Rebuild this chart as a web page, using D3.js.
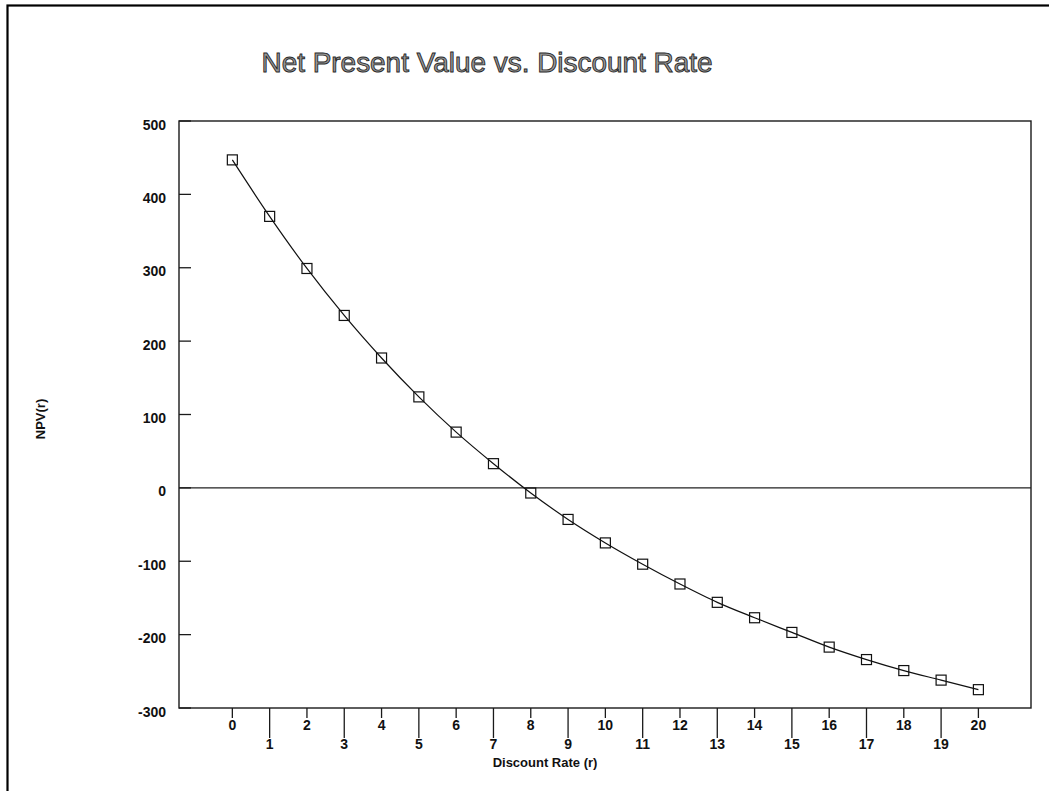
<!DOCTYPE html>
<html>
<head>
<meta charset="utf-8">
<script src="https://cdn.jsdelivr.net/npm/d3@7"></script>
<style>
  html, body { margin: 0; padding: 0; background: #fff; }
  svg { display: block; }
  text { font-family: "Liberation Sans", Arial, Helvetica, sans-serif; }
</style>
</head>
<body>
<svg id="chart" width="1049" height="791"></svg>
<script>
// Discount rates (%) and the net present value at each rate
const rates = [0, 1, 2, 3, 4, 5, 6, 7, 8, 9, 10, 11, 12, 13, 14, 15, 16, 17, 18, 19, 20];
const npv = [447, 370, 299, 235, 177, 124, 76, 33, -7, -43, -75, -104, -131, -156, -177, -197, -217, -234, -249, -262, -275];
const yTicks = [-300, -200, -100, 0, 100, 200, 300, 400, 500];
const xTicks = rates;

const titleText = "Net Present Value vs. Discount Rate";
const xTitle = "Discount Rate (r)";
const yTitle = "NPV(r)";

const svg = d3.select("#chart");

const plot = { left: 179, right: 1031, top: 121, bottom: 708 };

const x = d3.scaleLinear().domain([-1.43, 21.41]).range([plot.left, plot.right]);
const y = d3.scaleLinear().domain([-300, 500]).range([plot.bottom, plot.top]);

// Page frame (open to the right and bottom)
svg.append("rect")
  .attr("x", 7.5).attr("y", 5.5)
  .attr("width", 1200).attr("height", 1000)
  .attr("fill", "none").attr("stroke", "#000").attr("stroke-width", 2.2);

// Title
svg.append("text")
  .attr("x", 487).attr("y", 72)
  .attr("text-anchor", "middle")
  .attr("font-size", 27)
  .attr("textLength", 451).attr("lengthAdjust", "spacingAndGlyphs")
  .attr("fill", "#9a9a9a").attr("stroke", "#2a2a2a").attr("stroke-width", 0.9)
  .text(titleText);

// Plot frame
svg.append("rect")
  .attr("x", plot.left).attr("y", plot.top)
  .attr("width", plot.right - plot.left).attr("height", plot.bottom - plot.top)
  .attr("fill", "none").attr("stroke", "#1a1a1a").attr("stroke-width", 1.4);

// Zero reference line
svg.append("line")
  .attr("x1", plot.left).attr("x2", plot.right)
  .attr("y1", y(0)).attr("y2", y(0))
  .attr("stroke", "#222").attr("stroke-width", 1.1);

// Y ticks (inward) and labels
const yg = svg.append("g");
yg.selectAll("line").data(yTicks).join("line")
  .attr("x1", plot.left).attr("x2", plot.left + 12)
  .attr("y1", d => y(d)).attr("y2", d => y(d))
  .attr("stroke", "#1a1a1a").attr("stroke-width", 1.3);
yg.selectAll("text").data(yTicks).join("text")
  .attr("x", 166).attr("y", d => y(d) + 8.5)
  .attr("text-anchor", "end")
  .attr("font-size", 14).attr("font-weight", "bold")
  .attr("fill", "#111")
  .text(d => d);

// X ticks (outward, alternating length) and labels
const xg = svg.append("g");
xg.selectAll("line").data(xTicks).join("line")
  .attr("x1", d => x(d)).attr("x2", d => x(d))
  .attr("y1", plot.bottom)
  .attr("y2", d => plot.bottom + (d % 2 === 0 ? 10 : 30))
  .attr("stroke", "#1a1a1a").attr("stroke-width", 1.3);
xg.selectAll("text").data(xTicks).join("text")
  .attr("x", d => x(d))
  .attr("y", d => d % 2 === 0 ? 730 : 749)
  .attr("text-anchor", "middle")
  .attr("font-size", 14).attr("font-weight", "bold")
  .attr("fill", "#111")
  .text(d => d);

// Axis titles
svg.append("text")
  .attr("x", 545).attr("y", 767)
  .attr("text-anchor", "middle")
  .attr("font-size", 13).attr("font-weight", "bold")
  .attr("fill", "#111")
  .text(xTitle);

svg.append("text")
  .attr("transform", "translate(45,419) rotate(-90)")
  .attr("text-anchor", "middle")
  .attr("font-size", 13).attr("font-weight", "bold")
  .attr("fill", "#111")
  .text(yTitle);

// NPV curve
const pts = rates.map((r, i) => [r, npv[i]]);
svg.append("path")
  .datum(pts)
  .attr("fill", "none").attr("stroke", "#111").attr("stroke-width", 1.2)
  .attr("d", d3.line().x(d => x(d[0])).y(d => y(d[1])).curve(d3.curveMonotoneX));

// Square markers
svg.append("g").selectAll("rect").data(pts).join("rect")
  .attr("x", d => x(d[0]) - 5).attr("y", d => y(d[1]) - 5)
  .attr("width", 10).attr("height", 10)
  .attr("fill", "none").attr("stroke", "#111").attr("stroke-width", 1.2);
</script>
</body>
</html>
